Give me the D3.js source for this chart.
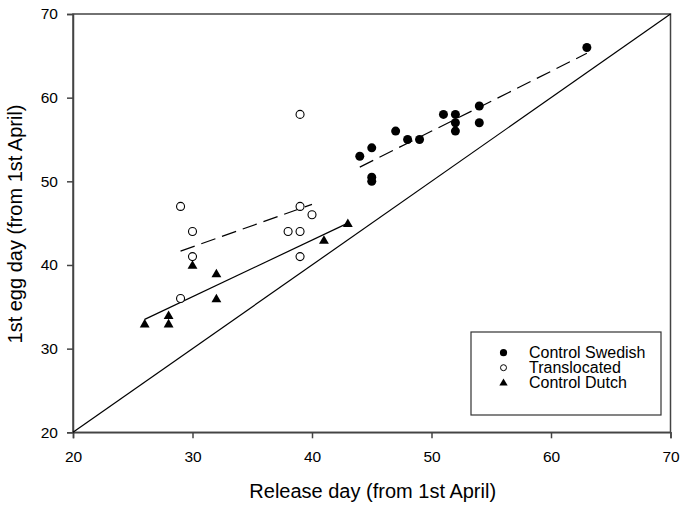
<!DOCTYPE html>
<html>
<head>
<meta charset="utf-8">
<script src="https://cdn.jsdelivr.net/npm/d3@7"></script>
<style>
	body { margin: 0; background: #fff; }
	text { font-family: "Liberation Sans", Arial, sans-serif; fill: #000; }
</style>
</head>
<body>
<div id="chartbox"></div>
<script>
// release day / 1st egg day (days from 1st April)
var swedishX = [44, 45, 45, 45, 47, 48, 49, 51, 52, 52, 52, 54, 54, 63];
var swedishY = [53, 54, 50.5, 50, 56, 55, 55, 58, 58, 57, 56, 59, 57, 66];

var translocX = [29, 30, 30, 29, 39, 40, 38, 39, 39, 39];
var translocY = [47, 44, 41, 36, 47, 46, 44, 44, 41, 58];

var dutchX = [26, 28, 28, 30, 32, 32, 41, 43];
var dutchY = [33, 34, 33, 40, 39, 36, 43, 45];

// fitted lines, end points
var swedishFitX = [44, 63];
var swedishFitY = [51.7, 65.3];
var translocFitX = [29, 40];
var translocFitY = [41.65, 47.25];
var dutchFitX = [26, 43];
var dutchFitY = [33.5, 45];
var identityX = [20, 70];
var identityY = [20, 70];

var xTicks = [20, 30, 40, 50, 60, 70];
var yTicks = [20, 30, 40, 50, 60, 70];
var legendLabels = ["Control Swedish", "Translocated", "Control Dutch"];

var W = 686, H = 509;
var plotLeft = 73, plotRight = 670.5, plotTop = 14, plotBottom = 432.3;

var svg = d3.select("#chartbox").append("svg")
	.attr("width", W)
	.attr("height", H);

var x = d3.scaleLinear().domain([20, 70]).range([plotLeft, plotRight]);
var y = d3.scaleLinear().domain([20, 70]).range([plotBottom, plotTop]);

function pairs(xs, ys) {
	return xs.map(function (v, i) { return [v, ys[i]]; });
}

var line = d3.line()
	.x(function (d) { return x(d[0]); })
	.y(function (d) { return y(d[1]); });

//frame
svg.append("rect")
	.attr("x", plotLeft).attr("y", plotTop)
	.attr("width", plotRight - plotLeft).attr("height", plotBottom - plotTop)
	.attr("fill", "none")
	.attr("stroke", "#444")
	.attr("stroke-width", 1.5);

//axes
var xAxis = svg.append("g")
	.attr("transform", "translate(0," + plotBottom + ")")
	.call(d3.axisBottom(x).tickValues(xTicks).tickSize(6).tickPadding(8));
var yAxis = svg.append("g")
	.attr("transform", "translate(" + plotLeft + ",0)")
	.call(d3.axisLeft(y).tickValues(yTicks).tickSize(6).tickPadding(9));

[xAxis, yAxis].forEach(function (ax) {
	ax.select(".domain").attr("stroke", "#444").attr("stroke-width", 1.5);
	ax.selectAll(".tick line").attr("stroke", "#444").attr("stroke-width", 1.5);
	ax.selectAll(".tick text")
		.style("font-family", "'Liberation Sans', Arial, sans-serif")
		.style("font-size", "15.5px")
		.attr("fill", "#000");
});
xAxis.selectAll(".tick text").attr("dy", "1.0em");

//lines
svg.append("path")
	.attr("d", line(pairs(identityX, identityY)))
	.attr("fill", "none").attr("stroke", "#000").attr("stroke-width", 1.2);
svg.append("path")
	.attr("d", line(pairs(dutchFitX, dutchFitY)))
	.attr("fill", "none").attr("stroke", "#000").attr("stroke-width", 1.2);
svg.append("path")
	.attr("d", line(pairs(translocFitX, translocFitY)))
	.attr("fill", "none").attr("stroke", "#000").attr("stroke-width", 1.2)
	.attr("stroke-dasharray", "15,7");
svg.append("path")
	.attr("d", line(pairs(swedishFitX, swedishFitY)))
	.attr("fill", "none").attr("stroke", "#000").attr("stroke-width", 1.2)
	.attr("stroke-dasharray", "15,7");

//points
var tri = d3.symbol().type(d3.symbolTriangle).size(42);
var triSmall = d3.symbol().type(d3.symbolTriangle).size(30);

svg.append("g").selectAll("circle")
	.data(pairs(translocX, translocY))
	.enter().append("circle")
	.attr("cx", function (d) { return x(d[0]); })
	.attr("cy", function (d) { return y(d[1]); })
	.attr("r", 4)
	.attr("fill", "#fff")
	.attr("stroke", "#000")
	.attr("stroke-width", 1.1);

svg.append("g").selectAll("path")
	.data(pairs(dutchX, dutchY))
	.enter().append("path")
	.attr("d", tri)
	.attr("transform", function (d) {
		return "translate(" + x(d[0]) + "," + (y(d[1]) + 1) + ")";
	})
	.attr("fill", "#000");

svg.append("g").selectAll("circle")
	.data(pairs(swedishX, swedishY))
	.enter().append("circle")
	.attr("cx", function (d) { return x(d[0]); })
	.attr("cy", function (d) { return y(d[1]); })
	.attr("r", 4.5)
	.attr("fill", "#000");

//legend
var legend = svg.append("g");
legend.append("rect")
	.attr("x", 471).attr("y", 332)
	.attr("width", 190).attr("height", 83)
	.attr("fill", "#fff")
	.attr("stroke", "#333")
	.attr("stroke-width", 1.2);

var rowY = [352.7, 367.7, 382.7];
legend.append("circle").attr("cx", 503.5).attr("cy", rowY[0]).attr("r", 3.6).attr("fill", "#000");
legend.append("circle").attr("cx", 503.5).attr("cy", rowY[1]).attr("r", 3)
	.attr("fill", "#fff").attr("stroke", "#000").attr("stroke-width", 1);
legend.append("path").attr("d", triSmall)
	.attr("transform", "translate(503.5," + (rowY[2] + 0.5) + ")").attr("fill", "#000");

legend.selectAll("text.lab")
	.data(legendLabels)
	.enter().append("text")
	.attr("class", "lab")
	.attr("x", 529)
	.attr("y", function (d, i) { return rowY[i] + 5.7; })
	.style("font-size", "16px")
	.text(function (d) { return d; });

//axis titles
svg.append("text")
	.attr("x", 372.7)
	.attr("y", 498.3)
	.attr("text-anchor", "middle")
	.style("font-size", "20px")
	.text("Release day (from 1st April)");

svg.append("text")
	.attr("transform", "translate(21.5,224) rotate(-90)")
	.attr("text-anchor", "middle")
	.style("font-size", "20px")
	.text("1st egg day (from 1st April)");
</script>
</body>
</html>
